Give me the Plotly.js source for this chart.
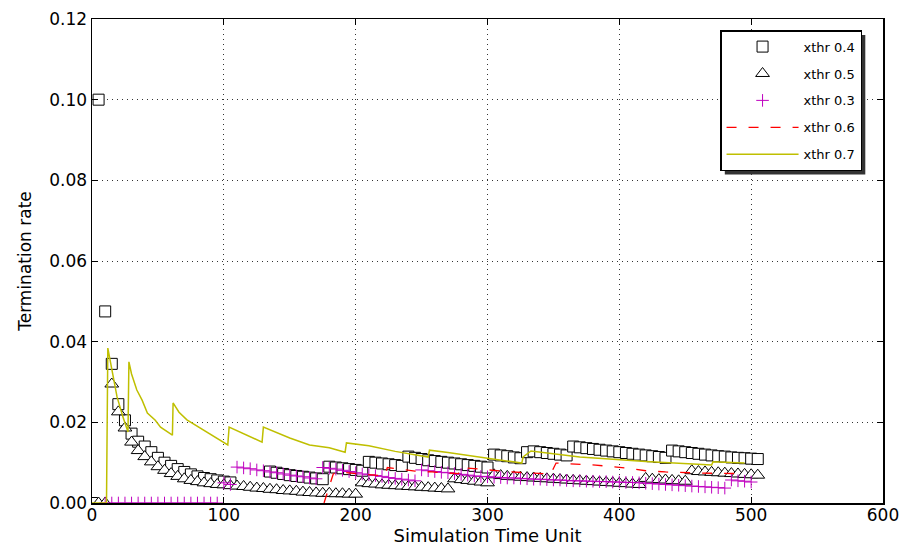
<!DOCTYPE html>
<html>
<head>
<meta charset="utf-8">
<script src="https://cdn.plot.ly/plotly-3.0.1.min.js"></script>
<style>
html,body{margin:0;padding:0;background:#fff;}
#chart{width:906px;height:546px;}
</style>
</head>
<body>
<div id="chart"></div>
<script>
// Shared sampling times for the marker series (simulation time units)
var simTime = [0,5,10,15,20,25,30,35,40,45,50,55,60,65,70,75,80,85,90,95,
  100,105,110,115,120,125,130,135,140,145,150,155,160,165,170,175,180,185,190,195,
  200,205,210,215,220,225,230,235,240,245,250,255,260,265,270,275,280,285,290,295,
  300,305,310,315,320,325,330,335,340,345,350,355,360,365,370,375,380,385,390,395,
  400,405,410,415,420,425,430,435,440,445,450,455,460,465,470,475,480,485,490,495,
  500,505];

// xthr 0.4 (squares)
var xthr04 = [0,0.100,0.0475,0.0345,0.0245,0.0205,0.0172,0.0152,0.0140,0.0126,0.0112,0.0100,0.0092,0.0084,0.0077,0.0071,0.0066,0.0062,0.0059,0.0056,
  0.0053,0.0051,null,null,null,null,null,0.0078,0.0075,0.0072,0.0069,0.0067,0.0065,0.0063,0.0061,0.0059,0.0090,0.0088,0.0086,0.0084,
  0.0082,0.0080,0.0102,0.0100,0.0098,0.0096,0.0094,0.0092,0.0115,0.0112,0.0109,0.0106,0.0104,0.0102,0.0100,0.0098,0.0096,0.0094,0.0092,0.0090,
  0.0088,0.0120,0.0118,0.0116,0.0113,0.0111,0.0126,0.0128,0.0126,0.0124,0.0122,0.0120,0.0118,0.0140,0.0138,0.0136,0.0134,0.0132,0.0130,0.0128,
  0.0126,0.0124,0.0122,0.0120,0.0118,0.0116,0.0114,0.0112,0.0130,0.0128,0.0126,0.0124,0.0122,0.0120,0.0118,0.0116,0.0115,0.0113,0.0112,0.0111,
  0.0110,0.0109];

// xthr 0.5 (triangles)
var xthr05 = [null,0,0,0.0295,0.0226,0.0186,0.0151,0.0130,0.0115,0.0102,0.0090,0.0081,0.0073,0.0066,0.0060,0.0056,0.0053,0.0050,0.0048,0.0046,
  0.0045,0.0043,0.0042,0.0041,0.0039,0.0037,0.0036,0.0034,0.0033,0.0031,0.0030,0.0029,0.0027,0.0026,0.0025,0.0024,0.0024,0.0023,0.0023,0.0022,
  0.0022,0.0050,0.0048,0.0047,0.0045,0.0044,0.0043,0.0042,0.0041,0.0040,0.0039,0.0038,0.0037,0.0036,0.0035,0.0060,0.0058,0.0056,0.0054,0.0052,
  0.0050,0.0070,0.0068,0.0066,0.0065,0.0064,0.0063,0.0062,0.0061,0.0060,0.0059,0.0058,0.0057,0.0056,0.0055,0.0054,0.0053,0.0052,0.0051,0.0050,
  0.0049,0.0048,0.0047,0.0046,0.0061,0.0059,0.0058,0.0057,0.0056,0.0055,0.0054,0.0080,0.0078,0.0077,0.0076,0.0075,0.0074,0.0073,0.0072,0.0071,
  0.0070,0.0069];

// xthr 0.3 (plus markers)
var xthr03 = [null,null,0,0,0,0,0,0,0,0,0,0,0,0,0,0,0,0,0,0,
  0.0050,0.0046,0.0089,0.0087,0.0085,0.0082,0.0080,0.0077,0.0075,0.0072,0.0069,0.0067,0.0065,0.0062,0.0060,0.0088,0.0086,0.0084,0.0081,0.0078,
  0.0075,0.0072,0.0070,0.0068,0.0066,0.0063,0.0061,0.0059,0.0057,0.0055,0.0082,0.0080,0.0078,0.0076,0.0075,0.0073,0.0071,0.0069,0.0067,0.0066,
  0.0065,0.0064,0.0063,0.0062,0.0062,0.0061,0.0060,0.0059,0.0059,0.0058,0.0057,0.0057,0.0056,0.0055,0.0055,0.0054,0.0054,0.0053,0.0053,0.0052,
  0.0052,0.0051,0.0051,0.0050,0.0049,0.0048,0.0047,0.0046,0.0045,0.0044,0.0043,0.0042,0.0041,0.0040,0.0039,0.0038,0.0037,0.0057,0.0055,0.0054,
  0.0052,null];

// xthr 0.6 (red dashed line)
var xthr06Time = [176,179,183,186,200,215,222,224,235,245,258,268,278,280,290,300,318,335,348,352,365,382,404,420,435,463,490];
var xthr06 = [0,0.0030,0.0072,0.0077,0.0073,0.0069,0.0067,0.0088,0.0083,0.0079,0.0077,0.0075,0.0073,0.0088,0.0085,0.0082,0.0077,0.0074,0.0072,0.0099,0.0097,0.0094,0.0087,0.0080,0.0077,0.0074,0.0073];

// xthr 0.7 (yellow solid line)
var xthr07Time = [0,11,12,15,19,23.5,27.3,28,30,34,38,42,48,52,61,61.5,66,72,82,94,103,104,115,129,130,150,165,180,192,193,210,230,255,256,270,300,326,327,333,370,420,470,471,495];
var xthr07 = [0,0,0.0384,0.0330,0.0263,0.0213,0.0176,0.0350,0.0320,0.0280,0.0255,0.0223,0.0205,0.0188,0.0168,0.0248,0.0225,0.0206,0.0186,0.0164,0.0144,0.0188,0.0172,0.0151,0.0188,0.0161,0.0144,0.0137,0.0126,0.0149,0.0142,0.0128,0.0114,0.0131,0.0125,0.0112,0.0099,0.0114,0.0129,0.0114,0.0103,0.0094,0.0102,0.0099];

var xTicks = [0,100,200,300,400,500,600];
var yTicks = [0,0.02,0.04,0.06,0.08,0.10,0.12];

var traces = [
  {x: simTime, y: xthr04, name: 'xthr 0.4', type: 'scatter', mode: 'markers', legendgroup: 'a',
   marker: {symbol: 'square', size: 11, color: '#ffffff', line: {color: '#000000', width: 1}}},
  {x: simTime, y: xthr05, name: 'xthr 0.5', type: 'scatter', mode: 'markers', legendgroup: 'b',
   marker: {symbol: 'triangle-up', size: 12, color: '#ffffff', line: {color: '#000000', width: 1}}},
  {x: simTime, y: xthr03, name: 'xthr 0.3', type: 'scatter', mode: 'markers', legendgroup: 'c',
   marker: {symbol: 'cross-thin-open', size: 9, color: '#bf00bf', line: {color: '#bf00bf', width: 1}}},
  {x: xthr06Time, y: xthr06, name: 'xthr 0.6', type: 'scatter', mode: 'lines', legendgroup: 'd',
   line: {color: '#ff0000', width: 1.3, dash: '10px,12px'}},
  {x: xthr07Time, y: xthr07, name: 'xthr 0.7', type: 'scatter', mode: 'lines', legendgroup: 'e',
   line: {color: '#bfbf00', width: 1.5}}
];

var axisFont = {family: 'DejaVu Sans', size: 17, color: '#000'};
var layout = {
  width: 906, height: 546,
  margin: {l: 92, r: 23, t: 19, b: 43, pad: 0},
  paper_bgcolor: '#ffffff', plot_bgcolor: '#ffffff',
  showlegend: true,
  font: {family: 'DejaVu Sans', color: '#000'},
  xaxis: {
    range: [0, 600], tickvals: xTicks, ticktext: xTicks.map(String),
    showline: true, linecolor: '#000', linewidth: 1.5, mirror: 'ticks',
    ticks: 'inside', ticklen: 6, tickcolor: '#000', tickwidth: 1,
    showgrid: true, gridcolor: '#333', gridwidth: 1, griddash: '1px,4px',
    zeroline: false, tickfont: axisFont, ticklabelstandoff: -4,
    title: {text: 'Simulation Time Unit', font: {family: 'DejaVu Sans', size: 18, color: '#000'}, standoff: 4}
  },
  yaxis: {
    range: [0, 0.12], tickvals: yTicks, ticktext: yTicks.map(function(v){return v.toFixed(2);}),
    showline: true, linecolor: '#000', linewidth: 1.5, mirror: 'ticks',
    ticks: 'inside', ticklen: 6, tickcolor: '#000', tickwidth: 1,
    showgrid: true, gridcolor: '#333', gridwidth: 1, griddash: '1px,4px',
    zeroline: false, tickfont: axisFont,
    title: {text: 'Termination rate', font: {family: 'DejaVu Sans', size: 17, color: '#000'}, standoff: 13}
  },
  legend: {
    x: 0.794, y: 0.977, xanchor: 'left', yanchor: 'top',
    bgcolor: '#ffffff', bordercolor: '#000', borderwidth: 1.5,
    font: {family: 'DejaVu Sans', size: 13, color: '#000'},
    traceorder: 'grouped', tracegroupgap: 7, itemwidth: 72
  }
};

Plotly.newPlot('chart', traces, layout, {staticPlot: true}).then(function(gd){
  var bg = gd.querySelector('.legend .bg');
  if (!bg) return;
  var r = bg.getBoundingClientRect();
  var s = gd._fullLayout._size;
  var off = 4;
  var shadow = {
    type: 'rect', xref: 'paper', yref: 'paper', layer: 'above',
    x0: (r.left + off - s.l) / s.w, x1: (r.right + off - s.l) / s.w,
    y0: 1 - (r.bottom + off - s.t) / s.h, y1: 1 - (r.top + off - s.t) / s.h,
    fillcolor: '#333333', line: {width: 0}
  };
  return Plotly.relayout(gd, {shapes: [shadow]});
});
</script>
</body>
</html>
